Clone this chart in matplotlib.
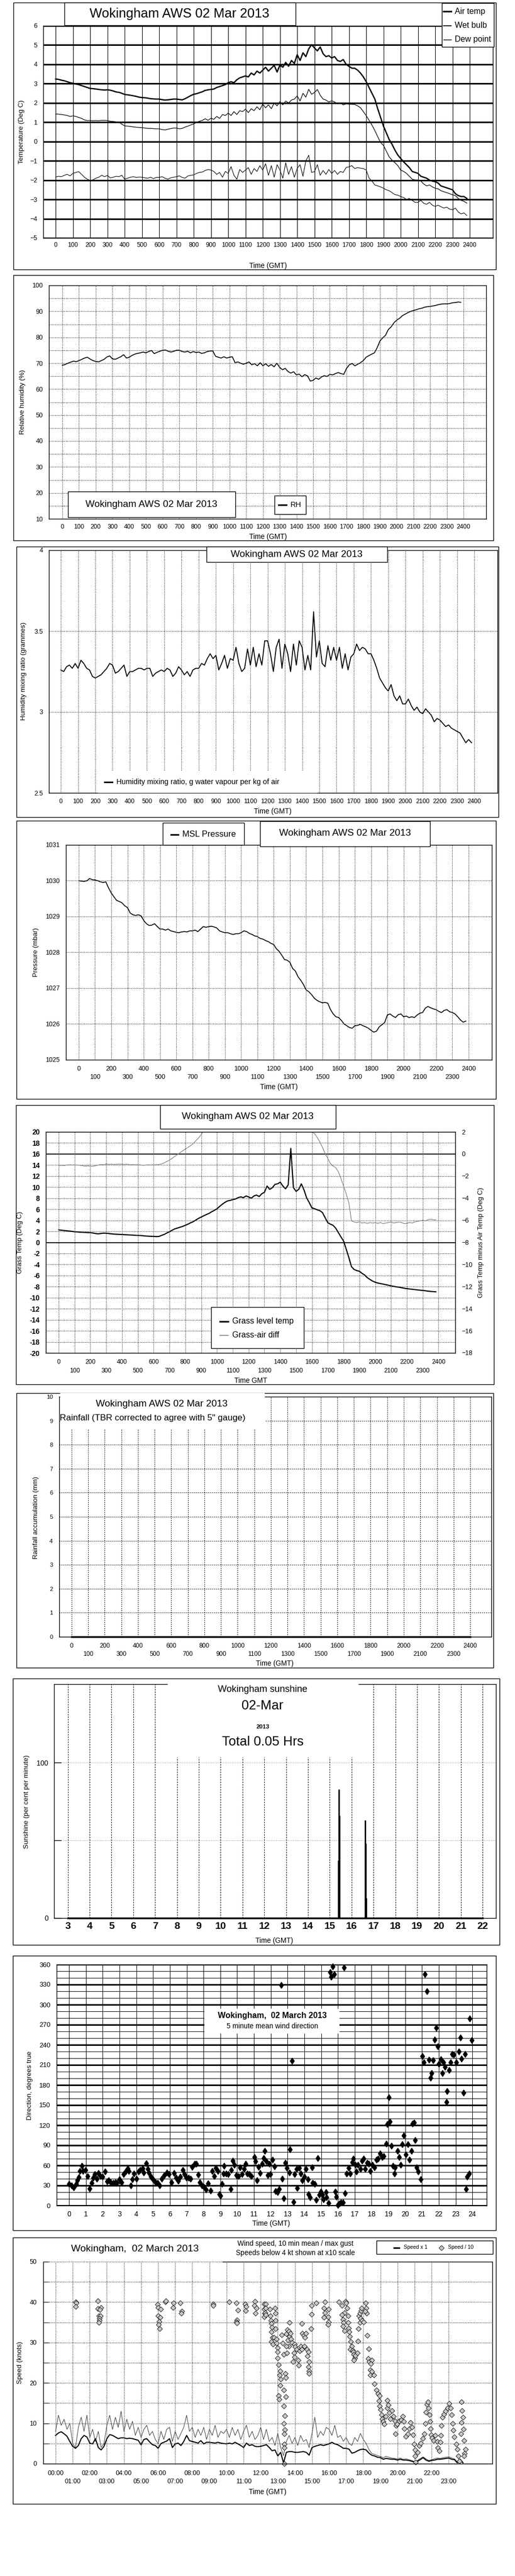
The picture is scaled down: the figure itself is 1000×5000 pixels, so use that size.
import numpy as np
import matplotlib
matplotlib.use('Agg')
import matplotlib.pyplot as plt
from matplotlib.patches import Rectangle
from matplotlib.lines import Line2D
from matplotlib import font_manager

# ---------------- data: 10 minute readings, 00:00 .. 23:50 GMT ----------------
air_temp = [
    3.24, 3.22, 3.18, 3.15, 3.10, 3.05, 3.02, 2.98, 2.95, 2.90, 2.85, 2.80,
    2.75, 2.74, 2.72, 2.70, 2.68, 2.67, 2.68, 2.66, 2.62, 2.57, 2.55, 2.50,
    2.44, 2.42, 2.40, 2.37, 2.34, 2.30, 2.28, 2.27, 2.25, 2.22, 2.21, 2.20,
    2.20, 2.17, 2.15, 2.16, 2.18, 2.20, 2.20, 2.18, 2.16, 2.22, 2.30, 2.38,
    2.45, 2.48, 2.53, 2.58, 2.65, 2.68, 2.70, 2.72, 2.80, 2.85, 2.90, 2.95,
    3.05, 3.10, 3.05, 3.20, 3.30, 3.35, 3.40, 3.35, 3.55, 3.45, 3.65, 3.55,
    3.70, 3.85, 3.65, 3.80, 3.95, 3.60, 3.97, 3.85, 4.10, 3.90, 4.20, 4.05,
    4.50, 4.20, 4.60, 4.40, 4.80, 5.02, 4.85, 4.70, 4.90, 4.55, 4.40, 4.45,
    4.33, 4.40, 4.20, 4.15, 4.25, 4.00, 3.90, 3.80, 3.80, 3.70, 3.55, 3.35,
    3.10, 2.80, 2.50, 2.20, 1.70, 1.25, 0.80, 0.45, 0.10, -0.15, -0.45, -0.70,
    -0.88, -1.05, -1.20, -1.35, -1.55, -1.60, -1.65, -1.80, -1.85, -1.90, -2.00, -2.05,
    -2.08, -2.15, -2.30, -2.35, -2.40, -2.45, -2.50, -2.70, -2.80, -2.85, -2.85, -2.95,
]
wet_bulb = [
    1.43, 1.42, 1.40, 1.38, 1.35, 1.30, 1.33, 1.30, 1.25, 1.20, 1.12, 1.09,
    1.09, 1.08, 1.09, 1.08, 1.10, 1.10, 1.09, 1.05, 1.04, 1.02, 1.00, 0.90,
    0.81, 0.80, 0.78, 0.76, 0.74, 0.73, 0.72, 0.70, 0.68, 0.68, 0.67, 0.66,
    0.66, 0.62, 0.60, 0.64, 0.67, 0.70, 0.70, 0.66, 0.68, 0.75, 0.80, 0.86,
    0.91, 1.00, 1.05, 1.10, 1.18, 1.10, 1.21, 1.15, 1.30, 1.20, 1.40, 1.35,
    1.47, 1.35, 1.55, 1.40, 1.60, 1.55, 1.68, 1.50, 1.70, 1.60, 1.80, 1.65,
    1.94, 1.75, 1.90, 1.70, 2.00, 1.85, 2.07, 1.90, 2.10, 2.00, 2.15, 2.20,
    2.37, 2.10, 2.50, 2.30, 2.71, 2.45, 2.54, 2.70, 2.40, 2.20, 2.15, 2.05,
    2.11, 2.05, 1.95, 2.00, 1.90, 1.95, 1.94, 1.93, 1.92, 1.85, 1.75, 1.55,
    1.34, 1.10, 0.85, 0.57, 0.25, -0.05, -0.20, -0.50, -0.80, -0.97, -1.10, -1.25,
    -1.48, -1.55, -1.65, -1.80, -1.95, -1.99, -1.99, -2.05, -2.20, -2.30, -2.25, -2.35,
    -2.42, -2.45, -2.55, -2.60, -2.65, -2.70, -2.76, -2.80, -2.95, -3.05, -3.10, -3.19,
]
dew_point = [
    -1.84, -1.80, -1.82, -1.75, -1.70, -1.78, -1.65, -1.60, -1.56, -1.70, -1.85, -1.95,
    -2.02, -1.98, -1.90, -1.85, -1.75, -1.82, -1.76, -1.88, -1.85, -1.80, -1.82, -1.75,
    -1.95, -1.90, -1.85, -1.82, -1.86, -1.84, -1.85, -1.88, -1.90, -1.85, -1.92, -1.86,
    -1.86, -1.82, -1.90, -1.95, -1.88, -1.85, -1.82, -1.78, -1.86, -1.90, -1.78, -1.75,
    -1.73, -1.65, -1.60, -1.58, -1.50, -1.45, -1.48, -1.55, -1.70, -1.60, -1.85, -1.55,
    -1.65, -1.30, -1.75, -1.95, -1.45, -1.60, -1.48, -1.35, -1.70, -1.40, -1.55, -1.25,
    -1.48, -1.15, -1.75, -1.25, -1.85, -1.20, -1.48, -1.90, -1.10, -1.70, -1.30, -1.85,
    -1.39, -1.20, -1.80, -1.00, -0.71, -1.60, -1.56, -1.20, -1.75, -1.50, -1.70, -1.45,
    -1.65, -1.50, -1.70, -1.55, -1.60, -1.35, -1.31, -1.25, -1.40, -1.35, -1.38, -1.40,
    -1.48, -1.90, -2.05, -2.25, -2.30, -2.35, -2.42, -2.50, -2.55, -2.65, -2.75, -2.78,
    -2.85, -2.90, -3.00, -2.95, -3.05, -3.15, -3.15, -3.05, -3.20, -3.25, -3.15, -3.30,
    -3.36, -3.30, -3.38, -3.45, -3.40, -3.50, -3.53, -3.45, -3.65, -3.75, -3.70, -3.83,
]
rel_humidity = [
    69.2, 69.5, 70.0, 70.4, 70.8, 70.6, 71.0, 71.5, 72.0, 72.3, 71.6, 71.0,
    70.7, 70.5, 71.0, 71.5, 72.4, 72.8, 71.7, 71.5, 72.0, 72.5, 73.3, 72.0,
    72.3, 73.0, 73.5, 73.8, 74.0, 74.3, 74.0, 74.5, 74.9, 73.7, 74.2, 74.6,
    75.0, 75.1, 74.6, 74.3, 74.6, 75.0, 75.0, 74.5, 74.3, 74.6, 74.0, 74.5,
    74.1, 74.3, 73.8, 74.0, 74.5, 74.7, 74.7, 72.7, 72.3, 72.0, 72.5, 72.0,
    72.3, 72.5, 70.2, 70.5, 70.0, 69.6, 70.0, 70.5, 69.4, 69.8, 69.0, 70.2,
    69.0, 69.8, 68.8, 69.5, 68.6, 70.0, 68.4, 67.5, 68.0, 66.8, 66.2, 66.7,
    65.5, 65.8, 64.8, 65.6, 65.1, 63.1, 63.4, 64.3, 63.8, 64.7, 65.2, 64.9,
    65.7, 65.5, 66.0, 66.4, 66.0, 65.7, 68.0, 69.4, 69.9, 69.0, 69.6, 70.2,
    71.0, 72.3, 72.9, 73.5, 74.0, 76.0, 78.6, 79.8, 80.8, 83.0, 84.0, 85.6,
    86.6, 87.3, 88.3, 88.9, 89.5, 90.0, 90.3, 90.6, 91.0, 91.2, 91.6, 91.8,
    91.9, 92.1, 92.3, 92.6, 92.8, 92.9, 92.9, 93.0, 93.3, 93.4, 93.6, 93.5,
]
mixing_ratio = [
    3.26, 3.25, 3.28, 3.29, 3.27, 3.30, 3.27, 3.32, 3.30, 3.27, 3.26, 3.22,
    3.21, 3.22, 3.23, 3.25, 3.27, 3.30, 3.29, 3.24, 3.25, 3.27, 3.29, 3.22,
    3.25, 3.25, 3.26, 3.27, 3.27, 3.26, 3.27, 3.27, 3.22, 3.24, 3.25, 3.26,
    3.25, 3.27, 3.26, 3.22, 3.24, 3.28, 3.26, 3.23, 3.25, 3.22, 3.26, 3.27,
    3.27, 3.30, 3.29, 3.33, 3.36, 3.33, 3.35, 3.26, 3.30, 3.35, 3.27, 3.33,
    3.32, 3.40, 3.30, 3.25, 3.27, 3.39, 3.29, 3.40, 3.28, 3.36, 3.29, 3.44,
    3.44, 3.36, 3.25, 3.40, 3.45, 3.27, 3.42, 3.36, 3.25, 3.42, 3.29, 3.44,
    3.40, 3.26, 3.35, 3.26, 3.62, 3.34, 3.44, 3.30, 3.28, 3.41, 3.32, 3.40,
    3.32, 3.40, 3.27, 3.36, 3.26, 3.34, 3.36, 3.42, 3.38, 3.40, 3.39, 3.36,
    3.36, 3.32, 3.27, 3.21, 3.18, 3.15, 3.13, 3.17, 3.10, 3.07, 3.10, 3.05,
    3.05, 3.08, 3.04, 3.01, 3.03, 3.00, 2.99, 3.02, 3.00, 2.98, 2.94, 2.96,
    2.95, 2.93, 2.91, 2.92, 2.90, 2.89, 2.88, 2.87, 2.84, 2.81, 2.83, 2.81,
]
msl_pressure = [
    1030.00, 1029.99, 1029.98, 1030.00, 1030.06, 1030.03, 1030.02, 1030.00, 1029.97, 1029.95, 1029.97, 1029.80,
    1029.66, 1029.55, 1029.45, 1029.42, 1029.38, 1029.30, 1029.25, 1029.10, 1029.05, 1029.03, 1029.05, 1029.02,
    1028.89, 1028.80, 1028.75, 1028.76, 1028.80, 1028.72, 1028.65, 1028.65, 1028.62, 1028.65, 1028.60, 1028.58,
    1028.56, 1028.55, 1028.57, 1028.58, 1028.57, 1028.60, 1028.60, 1028.62, 1028.58, 1028.65, 1028.72, 1028.70,
    1028.72, 1028.73, 1028.71, 1028.68, 1028.60, 1028.57, 1028.55, 1028.55, 1028.52, 1028.50, 1028.52, 1028.52,
    1028.55, 1028.60, 1028.58, 1028.53, 1028.50, 1028.46, 1028.44, 1028.39, 1028.37, 1028.33, 1028.30, 1028.25,
    1028.22, 1028.10, 1028.03, 1027.92, 1027.80, 1027.78, 1027.72, 1027.55, 1027.48, 1027.32, 1027.22, 1027.10,
    1026.95, 1026.90, 1026.82, 1026.72, 1026.66, 1026.62, 1026.59, 1026.60, 1026.58, 1026.40, 1026.28, 1026.20,
    1026.18, 1026.10, 1026.00, 1025.95, 1025.90, 1025.88, 1025.95, 1025.96, 1025.99, 1025.95, 1025.92, 1025.88,
    1025.82, 1025.77, 1025.80, 1025.92, 1025.98, 1026.04, 1026.25, 1026.28, 1026.22, 1026.18, 1026.26, 1026.28,
    1026.20, 1026.22, 1026.18, 1026.20, 1026.18, 1026.25, 1026.30, 1026.32, 1026.44, 1026.49, 1026.45, 1026.42,
    1026.40, 1026.35, 1026.32, 1026.38, 1026.40, 1026.34, 1026.32, 1026.28, 1026.20, 1026.11, 1026.05, 1026.08,
]
grass_temp = [
    2.26, 2.20, 2.15, 2.10, 2.05, 2.00, 1.93, 1.90, 1.85, 1.82, 1.80, 1.78,
    1.76, 1.70, 1.60, 1.55, 1.62, 1.68, 1.66, 1.60, 1.55, 1.50, 1.48, 1.45,
    1.43, 1.40, 1.38, 1.35, 1.30, 1.28, 1.26, 1.25, 1.20, 1.15, 1.12, 1.10,
    1.10, 1.05, 1.08, 1.26, 1.45, 1.70, 1.93, 2.20, 2.45, 2.59, 2.75, 2.90,
    3.09, 3.30, 3.55, 3.75, 4.05, 4.35, 4.58, 4.80, 5.05, 5.25, 5.55, 5.80,
    6.08, 6.50, 6.90, 7.24, 7.50, 7.60, 7.74, 7.85, 8.10, 8.24, 8.10, 8.40,
    8.24, 8.00, 8.40, 8.57, 8.30, 8.80, 9.07, 10.20, 9.60, 9.90, 10.50, 10.60,
    10.90, 10.20, 9.70, 10.40, 17.00, 9.90, 9.24, 9.60, 10.60, 9.50, 8.07, 7.20,
    6.25, 6.10, 5.90, 5.75, 5.40, 4.50, 3.59, 3.30, 3.10, 2.59, 1.80, 1.00,
    0.27, -1.20, -2.72, -4.38, -4.90, -5.10, -5.22, -5.60, -5.90, -6.38, -6.70, -7.00,
    -7.21, -7.35, -7.45, -7.54, -7.65, -7.75, -7.87, -7.95, -8.05, -8.11, -8.20, -8.30,
    -8.37, -8.42, -8.48, -8.54, -8.60, -8.65, -8.70, -8.75, -8.82, -8.87, -8.90, -8.94,
]
grass_air_diff = [
    -1.03, -1.02, -1.05, -1.00, -0.98, -1.00, -0.98, -1.00, -1.02, -1.05, -1.10, -1.08,
    -1.10, -1.12, -1.05, -1.00, -0.95, -0.97, -0.90, -0.95, -0.92, -0.95, -0.93, -0.92,
    -0.93, -0.95, -0.92, -0.98, -0.95, -0.98, -0.97, -0.99, -1.02, -1.00, -0.98, -1.00,
    -0.97, -0.98, -0.95, -0.90, -0.80, -0.68, -0.55, -0.40, -0.22, -0.05, 0.12, 0.28,
    0.45, 0.60, 0.75, 0.95, 1.20, 1.45, 1.75, 2.10, 2.40, 2.70, 3.00, 3.30,
    3.50, 3.80, 4.00, 4.20, 4.40, 4.40, 4.50, 4.45, 4.60, 4.70, 4.70, 4.60,
    4.55, 4.50, 4.70, 4.80, 5.00, 5.20, 5.10, 5.50, 5.60, 5.30, 5.80, 5.60,
    6.00, 5.50, 6.50, 5.00, 4.80, 4.50, 4.00, 4.50, 3.80, 3.20, 2.60, 2.30,
    1.95, 1.85, 1.50, 1.10, 0.60, 0.05, -0.40, -0.85, -1.10, -1.22, -1.60, -2.20,
    -2.90, -3.60, -4.40, -6.05, -6.15, -6.20, -6.15, -6.25, -6.20, -6.28, -6.20, -6.25,
    -6.20, -6.28, -6.20, -6.30, -6.25, -6.20, -6.15, -6.25, -6.20, -6.15, -6.20, -6.30,
    -6.28, -6.20, -6.25, -6.15, -6.10, -6.05, -6.00, -6.05, -5.95, -5.90, -5.95, -5.96,
]
rain_hour = [0, 2, 4, 6, 8, 10, 12, 14, 16, 18, 20, 22, 24]
rain_mm = [0.0, 0.0, 0.0, 0.0, 0.0, 0.0, 0.0, 0.0, 0.0, 0.0, 0.0, 0.0, 0.0]

sun_hour = [15.40, 15.42, 15.43, 15.45, 16.63, 16.65, 16.67]
sun_pct = [37, 83, 66, 52, 63, 48, 13]

wind_mean = [
    7.0, 7.6, 7.9, 7.4, 6.8, 5.5, 4.3, 3.8, 4.5, 6.2, 7.0, 6.6,
    5.1, 4.9, 6.2, 4.0, 3.4, 4.3, 6.2, 7.2, 7.0, 6.6, 6.2, 6.4,
    6.4, 6.2, 6.3, 6.2, 6.0, 5.8, 4.7, 6.0, 6.2, 5.4, 4.7, 4.5,
    3.8, 5.0, 5.3, 5.6, 6.2, 4.0, 4.9, 5.1, 4.5, 5.5, 7.0, 5.7,
    5.5, 5.3, 5.1, 5.7, 4.9, 5.3, 5.3, 5.2, 5.1, 5.3, 5.1, 5.0,
    4.9, 5.1, 4.9, 5.3, 4.9, 4.5, 4.0, 5.1, 4.5, 4.7, 4.3, 4.2,
    4.3, 4.5, 4.7, 4.0, 3.2, 3.4, 1.9, 2.8, 0.2, 2.8, 3.0, 3.0,
    2.8, 2.8, 2.9, 3.0, 2.8, 2.1, 4.0, 4.3, 4.5, 4.7, 4.5, 4.7,
    4.9, 5.3, 4.9, 4.7, 4.3, 3.8, 3.8, 3.6, 2.6, 2.8, 3.2, 3.5,
    3.6, 3.4, 2.6, 2.1, 1.9, 1.6, 1.5, 1.1, 1.3, 1.2, 1.1, 1.1,
    0.9, 1.1, 0.9, 0.9, 0.8, 0.6, 0.4, 0.6, 1.0, 1.5, 0.9, 0.6,
    0.8, 0.9, 1.1, 1.1, 1.2, 1.3, 1.4, 1.1, 1.0, 0.2, 0.9, 0.2,
]
wind_gust = [
    8.0, 12.0, 9.5, 11.0, 8.5, 10.0, 5.0, 4.0, 9.0, 11.5, 8.0, 12.0,
    6.5, 8.5, 5.5, 8.0, 4.0, 5.0, 9.5, 12.0, 8.5, 11.5, 9.0, 13.0,
    8.0, 11.0, 8.5, 10.5, 7.0, 9.0, 6.5, 8.5, 9.5, 7.0, 8.0, 6.0,
    5.0, 8.0, 6.0, 8.5, 9.0, 5.5, 8.0, 6.0, 7.5, 9.0, 12.0, 8.0,
    9.0, 6.5, 8.5, 7.0, 9.0, 6.0, 8.5, 7.0, 9.5, 6.5, 8.0, 7.5,
    8.5, 6.5, 9.0, 7.0, 8.5, 6.0, 8.0, 9.5, 6.5, 8.0, 6.0, 7.0,
    9.0, 6.0, 8.5, 5.5, 6.5, 4.5, 7.5, 4.0, 2.0, 5.5, 7.0, 5.0,
    6.5, 4.5, 7.0, 5.5, 6.0, 4.0, 7.5, 11.5, 6.5, 8.0, 7.0, 9.0,
    8.5, 7.0, 9.5, 6.5, 7.0, 5.5, 6.5, 5.0, 4.5, 6.5, 5.5, 7.5,
    6.0, 5.0, 3.5, 2.5, 2.3, 2.0, 1.8, 1.5, 1.8, 1.6, 1.4, 1.3,
    1.2, 1.4, 1.1, 1.2, 1.0, 0.8, 0.5, 0.8, 1.3, 1.7, 1.2, 0.8,
    1.0, 1.2, 1.4, 1.3, 1.5, 1.6, 1.7, 1.4, 1.2, 0.5, 1.2, 0.4,
]

# 5 minute mean wind direction
wd_hour = [
    0.00, 0.15, 0.27, 0.41, 0.49, 0.58, 0.63, 0.75, 0.83, 0.97,
    1.09, 1.23, 1.35, 1.43, 1.52, 1.65, 1.74, 1.86, 1.99, 2.15,
    2.25, 2.37, 2.49, 2.62, 2.74, 2.85, 3.00, 3.13, 3.25, 3.36,
    3.48, 3.56, 3.68, 3.76, 3.87, 4.00, 4.12, 4.24, 4.38, 4.45,
    4.58, 4.67, 4.75, 4.87, 5.00, 5.13, 5.26, 5.40, 5.52, 5.66,
    5.81, 5.95, 6.08, 6.24, 6.37, 6.49, 6.63, 6.76, 6.85, 6.97,
    7.10, 7.23, 7.31, 7.48, 7.56, 7.68, 7.77, 7.90, 8.02, 8.16,
    8.28, 8.41, 8.50, 8.64, 8.73, 8.84, 8.93, 9.01, 9.10, 9.18,
    9.23, 9.35, 9.47, 9.61, 9.66, 9.74, 9.83, 9.95, 10.07, 10.17,
    10.29, 10.41, 10.51, 10.60, 10.72, 10.85, 11.02, 11.09, 11.18, 11.26,
    11.36, 11.48, 11.57, 11.65, 11.74, 11.82, 11.91, 11.99, 12.11, 12.21,
    12.28, 12.41, 12.50, 12.61, 12.67, 12.76, 12.88, 12.96, 13.10, 13.15,
    13.27, 13.36, 13.41, 13.53, 13.58, 13.70, 13.78, 13.87, 13.99, 14.09,
    14.21, 14.26, 14.34, 14.46, 14.50, 14.60, 14.72, 14.80, 14.89, 14.97,
    15.06, 15.14, 15.28, 15.32, 15.44, 15.54, 15.58, 15.68, 15.77, 15.83,
    15.91, 16.00, 16.08, 16.17, 16.29, 16.37, 16.42, 16.50, 16.63, 16.73,
    16.85, 16.90, 17.02, 17.10, 17.19, 17.33, 17.44, 17.53, 17.61, 17.73,
    17.84, 17.92, 18.04, 18.18, 18.30, 18.38, 18.52, 18.64, 18.72, 18.86,
    18.94, 19.04, 19.10, 19.18, 19.28, 19.37, 19.40, 19.54, 19.63, 19.74,
    19.83, 19.92, 20.03, 20.17, 20.26, 20.39, 20.43, 20.53, 20.60, 20.68,
    20.77, 20.94, 21.02, 21.12, 21.16, 21.28, 21.42, 21.52, 21.56, 21.67,
    21.75, 21.86, 21.95, 22.01, 22.11, 22.21, 22.27, 22.37, 22.47, 22.50,
    22.60, 22.70, 22.80, 22.90, 23.04, 23.20, 23.30, 23.36, 23.46, 23.56,
    23.61, 23.70, 23.80, 23.83, 23.95,
]
wd_deg = [
    32.6, 30.0, 27.0, 32.6, 37.7, 42.0, 51.8, 59.5, 51.8, 53.0,
    44.0, 25.4, 33.8, 41.5, 46.7, 40.3, 48.5, 44.0, 42.8, 50.5,
    36.4, 37.7, 35.0, 33.8, 35.0, 33.8, 39.0, 35.0, 46.7, 50.5,
    55.6, 51.8, 30.0, 39.0, 47.4, 40.3, 50.5, 53.0, 55.6, 49.0,
    62.8, 54.4, 49.0, 42.8, 39.0, 35.0, 33.8, 30.0, 40.3, 45.4,
    49.0, 46.7, 35.0, 48.7, 41.5, 37.0, 42.8, 53.0, 46.7, 41.5,
    41.5, 40.3, 57.4, 62.6, 62.0, 45.9, 35.0, 30.0, 27.4, 23.6,
    33.0, 22.3, 51.3, 44.0, 56.4, 51.8, 17.2, 14.6, 32.6, 48.0,
    59.5, 48.0, 46.7, 24.9, 53.0, 66.7, 60.8, 45.4, 44.0, 57.0,
    47.2, 54.4, 62.6, 47.4, 46.7, 44.0, 72.3, 65.9, 37.7, 57.4,
    48.7, 62.6, 71.0, 81.3, 65.9, 45.4, 62.0, 46.7, 68.5, 58.2,
    21.5, 19.7, 24.9, 329.4, 40.3, 10.8, 64.0, 56.4, 49.0, 83.8,
    215.8, 5.6, 46.7, 54.4, 26.2, 56.4, 48.0, 37.7, 42.8, 54.4,
    39.0, 17.2, 12.1, 57.0, 33.8, 32.6, 8.2, 71.0, 15.9, 21.0,
    15.9, 9.5, 19.7, 12.1, 3.6, 348.7, 341.8, 357.0, 345.4, 21.0,
    12.8, 0.5, 3.0, 4.4, 4.4, 355.6, 18.5, 48.0, 56.4, 48.0,
    64.6, 69.7, 60.8, 50.5, 60.8, 54.4, 67.2, 69.7, 54.4, 64.0,
    62.0, 51.8, 60.8, 57.0, 68.5, 69.7, 77.4, 72.3, 73.6, 92.0,
    121.2, 161.2, 125.4, 89.0, 59.5, 48.0, 57.0, 81.3, 72.3, 60.8,
    91.5, 104.4, 76.0, 91.5, 68.5, 81.3, 122.1, 123.5, 98.0, 57.0,
    50.5, 39.0, 222.7, 213.6, 345.4, 320.3, 217.7, 191.0, 197.8, 217.0,
    248.0, 265.5, 237.7, 211.5, 218.5, 197.8, 214.2, 206.7, 154.3, 170.8,
    202.5, 213.6, 226.5, 225.1, 213.6, 230.2, 250.8, 219.2, 168.6, 226.2,
    24.9, 42.8, 48.0, 279.2, 247.2,
]

# speeds below 4 kt, plotted at x10 scale
slow_hour = [
    1.17, 1.22, 1.17, 2.46, 2.46, 2.64, 2.59, 2.52, 2.62, 2.55,
    2.57, 2.52, 5.96, 6.01, 6.14, 6.01, 6.11, 6.06, 6.04, 6.09,
    6.41, 6.46, 6.89, 6.86, 7.30, 7.37, 7.35, 9.23, 9.23, 10.15,
    10.58, 10.66, 10.61, 10.58, 10.60, 11.09, 11.14, 11.12, 11.67, 11.64,
    11.74, 11.69, 12.19, 12.21, 12.24, 12.21, 12.28, 12.30, 12.25, 12.28,
    12.53, 12.58, 12.60, 12.63, 12.66, 12.63, 12.68, 12.63, 12.73, 12.78,
    12.83, 12.86, 12.88, 12.88, 12.93, 12.93, 12.98, 12.98, 13.00, 13.06,
    13.13, 13.10, 13.16, 13.13, 13.05, 13.08, 13.23, 13.29, 13.34, 13.44,
    13.46, 13.34, 13.46, 13.34, 13.42, 13.34, 13.41, 13.39, 13.37, 13.39,
    13.37, 13.49, 13.57, 13.64, 13.69, 13.67, 13.74, 13.59, 13.78, 13.64,
    13.84, 13.51, 13.54, 13.97, 14.02, 14.09, 13.94, 13.99, 13.89, 14.19,
    14.21, 14.29, 14.34, 14.39, 14.44, 14.39, 14.51, 14.59, 14.64, 14.54,
    14.71, 14.79, 14.74, 14.84, 14.79, 14.84, 14.84, 14.94, 14.97, 14.99,
    15.24, 15.75, 15.69, 15.75, 15.98, 15.95, 15.69, 15.98, 15.95, 16.58,
    16.75, 16.95, 17.00, 17.05, 16.90, 16.75, 16.80, 16.85, 16.82, 16.90,
    17.10, 17.10, 17.15, 17.18, 17.22, 17.28, 17.32, 17.25, 17.38, 17.42,
    17.45, 17.50, 17.45, 17.55, 17.65, 17.70, 17.73, 17.80, 17.75, 17.80,
    17.88, 17.90, 17.85, 17.94, 18.01, 18.13, 18.18, 18.20, 18.10, 18.23,
    18.31, 18.28, 18.36, 18.50, 18.45, 18.41, 18.51, 18.41, 18.61, 18.66,
    18.76, 18.86, 18.96, 18.91, 18.96, 19.00, 19.06, 19.11, 19.16, 19.21,
    19.31, 19.39, 19.41, 19.46, 19.53, 19.59, 19.69, 19.76, 19.86, 19.91,
    19.89, 19.99, 20.11, 20.21, 20.31, 20.36, 20.41, 20.49, 20.61, 20.71,
    20.76, 20.84, 20.92, 20.97, 21.02, 21.04, 21.07, 21.17, 21.27, 21.37,
    21.47, 21.57, 21.62, 21.67, 21.72, 21.77, 21.82, 21.87, 21.90, 21.94,
    21.97, 22.04, 22.12, 22.22, 22.32, 22.37, 22.44, 22.50, 22.54, 22.57,
    22.62, 22.72, 22.82, 22.92, 23.02, 23.12, 23.17, 23.22, 23.27, 23.33,
    23.43, 23.51, 23.55, 23.63, 23.73, 23.78, 23.83, 23.73, 23.85, 23.70,
    23.88, 23.98, 23.93, 23.88,
]
slow_x10 = [
    40.1, 39.8, 38.9, 40.3, 38.4, 38.7, 38.2, 36.6, 36.6, 36.0,
    35.4, 34.9, 39.4, 38.7, 38.3, 36.6, 36.2, 35.2, 34.5, 33.4,
    40.1, 40.3, 39.8, 38.6, 39.8, 37.7, 37.2, 39.6, 39.2, 40.1,
    39.8, 38.0, 35.6, 35.1, 34.8, 39.6, 38.9, 37.9, 40.2, 39.1,
    38.5, 37.2, 39.6, 38.3, 37.2, 36.4, 39.6, 38.5, 37.4, 36.8,
    38.3, 36.6, 35.4, 34.7, 33.8, 32.6, 31.3, 30.2, 29.6, 31.3,
    38.5, 37.2, 35.5, 33.4, 30.9, 29.8, 28.7, 27.7, 26.2, 24.5,
    23.0, 21.9, 20.9, 19.4, 16.8, 16.0, 31.9, 29.8, 27.0, 22.3,
    21.3, 18.3, 16.6, 14.3, 11.9, 10.0, 8.4, 7.4, 4.9, 4.0,
    0.0, 32.1, 33.2, 32.8, 34.9, 31.5, 32.3, 30.6, 30.9, 29.1,
    30.0, 29.1, 27.4, 29.6, 28.9, 28.3, 27.4, 26.4, 25.3, 25.7,
    24.4, 27.9, 29.1, 28.3, 32.3, 34.7, 31.7, 31.3, 32.3, 29.1,
    28.3, 27.7, 26.6, 25.3, 24.0, 23.0, 22.3, 33.4, 37.0, 39.1,
    39.8, 40.1, 38.5, 37.4, 38.3, 36.4, 36.2, 35.1, 34.5, 40.1,
    39.1, 40.2, 39.8, 38.5, 37.4, 36.8, 35.7, 34.9, 34.0, 32.9,
    36.6, 34.9, 33.6, 32.6, 31.5, 30.2, 29.1, 28.3, 28.1, 27.7,
    27.0, 26.2, 25.7, 26.8, 27.4, 30.4, 33.4, 34.9, 36.6, 37.2,
    37.9, 38.5, 36.0, 35.5, 35.1, 39.8, 38.5, 37.2, 37.7, 31.7,
    28.5, 26.0, 25.3, 25.7, 24.7, 23.2, 22.8, 21.9, 21.9, 19.8,
    18.3, 17.4, 16.8, 15.5, 14.3, 13.4, 12.1, 11.1, 10.4, 9.8,
    11.7, 13.8, 15.7, 14.5, 12.6, 11.1, 13.2, 11.7, 10.6, 9.4,
    7.4, 9.8, 10.6, 10.9, 11.7, 10.4, 8.7, 6.8, 7.4, 8.7,
    10.2, 9.1, 7.2, 4.9, 3.4, 1.9, 0.4, 2.8, 4.5, 5.1,
    6.2, 7.4, 10.0, 12.8, 14.7, 15.3, 13.8, 12.1, 10.4, 8.7,
    7.2, 6.4, 5.7, 7.0, 5.5, 4.0, 3.2, 5.3, 7.0, 9.4,
    11.5, 12.3, 13.0, 13.8, 14.9, 13.8, 12.1, 10.0, 8.3, 6.6,
    4.9, 3.6, 1.9, 0.6, 15.3, 13.2, 11.5, 10.2, 8.5, 7.4,
    5.7, 3.6, 2.6, 1.9,
]

TITLE = 'Wokingham AWS 02 Mar 2013'

# ---------------- fonts / helpers ----------------
W, H = 1000, 5000
_names = {f.name for f in font_manager.fontManager.ttflist}
HAVE_NARROW = 'Liberation Sans Narrow' in _names
NARROW = 'Liberation Sans Narrow' if HAVE_NARROW else 'Liberation Sans'
WIDE = 'Liberation Sans'
plt.rcParams['font.family'] = [NARROW, 'DejaVu Sans']


def fs(size):
    # sizes are tuned for the narrow face
    return size if HAVE_NARROW else size * 0.82


def fx(x):
    return x / W


def fy(y):
    return 1 - y / H


fig = plt.figure(figsize=(10, 50), dpi=100)


def add_ax(l, t, r, b):
    ax = fig.add_axes([fx(l), fy(b), (r - l) / W, (b - t) / H])
    for s in ax.spines.values():
        s.set_linewidth(1.0)
    ax.set_axisbelow(True)
    return ax


def frame(l, t, r, b, fill=False, ec='black', lw=1.0):
    fig.patches.append(Rectangle((fx(l), fy(b)), (r - l) / W, (b - t) / H,
                                 transform=fig.transFigure, fill=fill,
                                 facecolor='white', edgecolor=ec, lw=lw,
                                 zorder=5 if fill else 1))


def txt(x, y, s, size, ha='center', **kw):
    fig.text(fx(x), fy(y), s, fontsize=fs(size), ha=ha, va='center', zorder=8, **kw)


def ylab(x, y, s, size=9.5):
    fig.text(fx(x), fy(y), s, fontsize=size, family=WIDE, rotation=90,
             ha='center', va='center', zorder=8)


def key(x0, x1, y, **kw):
    fig.lines.append(Line2D([fx(x0), fx(x1)], [fy(y), fy(y)],
                            transform=fig.transFigure, zorder=9, **kw))


def hhmm_ticks(ax, size, pad, two_rows=False, pad2=None):
    if two_rows:
        ev = list(range(0, 2401, 200))
        od = list(range(100, 2400, 200))
        ax.set_xticks(ev, [str(v) for v in ev])
        ax.set_xticks(od, [str(v) for v in od], minor=True)
        ax.tick_params(axis='x', which='minor', labelsize=fs(size), length=0, pad=pad2)
    else:
        ev = list(range(0, 2401, 100))
        ax.set_xticks(ev, [str(v) for v in ev])
    ax.tick_params(axis='x', which='major', labelsize=fs(size), length=0, pad=pad)


t10 = np.arange(len(air_temp)) / 6.0
x10 = t10 * 100

# ---------------- 1: temperatures ----------------
frame(26, 5, 963, 523)
ax1 = add_ax(84, 50, 957, 462)
ax1.set_xlim(-72, 2534)
ax1.set_ylim(-5, 6)
hhmm_ticks(ax1, 10.5, 6)
ax1.set_yticks(range(-5, 7))
ax1.tick_params(axis='y', labelsize=fs(11), length=0, pad=8.5)
ax1.grid(axis='x', color='black', lw=0.8)
ax1.grid(axis='y', color='black', lw=2.2)
ax1.plot(x10, air_temp, color='black', lw=1.8)
ax1.plot(x10, wet_bulb, color='black', lw=0.9)
ax1.plot(x10, dew_point, color='black', lw=0.8)
frame(125, 5, 574, 49, fill=True)
txt(349, 27, TITLE, 22.5)
frame(858, 6, 959, 91, fill=True)
for yy, name, w in [(22, 'Air temp', 2.2), (50, 'Wet bulb', 1.2), (77, 'Dew point', 1.0)]:
    key(861, 876, yy, color='black', lw=w)
    txt(883, yy, name, 14, ha='left')
ylab(42, 256, 'Temperature (Deg C)')
txt(521, 516, 'Time (GMT)', 12)

# ---------------- 2: relative humidity ----------------
frame(26, 534, 958, 1049)
ax2 = add_ax(95, 554, 944, 1007)
ax2.set_xlim(-80, 2535)
ax2.set_ylim(10, 100)
hhmm_ticks(ax2, 10.5, 7)
ax2.set_yticks(range(10, 101, 10))
ax2.set_yticks(range(15, 100, 10), minor=True)
ax2.tick_params(axis='y', which='both', labelsize=fs(11), length=0, pad=8.5)
ax2.grid(which='both', color='black', ls=':', lw=0.8)
ax2.plot(x10, rel_humidity, color='black', lw=1.2)
frame(132, 954, 457, 1004, fill=True)
txt(294, 979, TITLE, 16.5)
frame(533, 962, 594, 998, fill=True)
key(541, 556, 980, color='black', lw=2.2)
txt(564, 980, 'RH', 13, ha='left')
ylab(44, 780, 'Relative humidity (%)')
txt(521, 1042, 'Time (GMT)', 12)

# ---------------- 3: mixing ratio ----------------
frame(32, 1061, 968, 1586)
ax3 = add_ax(95, 1068, 966, 1539)
ax3.set_xlim(-69, 2534)
ax3.set_ylim(2.5, 4)
hhmm_ticks(ax3, 10.5, 8)
ax3.set_yticks([2.5, 3, 3.5, 4], ['2.5', '3', '3.5', '4'])
ax3.tick_params(axis='y', labelsize=fs(11), length=0, pad=8.5)
ax3.grid(color='black', ls=':', lw=0.8)
ax3.plot(x10, mixing_ratio, color='black', lw=1.3)
frame(190, 1497, 616, 1538, fill=True, ec='white')
key(203, 218, 1518, color='black', lw=2.2)
txt(226, 1518, 'Humidity mixing ratio, g water vapour per kg of air', 12.5, ha='left')
frame(401, 1061, 752, 1091, fill=True)
txt(576, 1076, TITLE, 16.5)
ylab(46, 1303, 'Humidity mixing ratio (grammes)')
txt(530, 1575, 'Time (GMT)', 12)

# ---------------- 4: pressure ----------------
frame(32, 1593, 963, 2133)
ax4 = add_ax(128, 1640, 955, 2057)
ax4.set_xlim(-79, 2543)
ax4.set_ylim(1025, 1031)
hhmm_ticks(ax4, 11, 9, two_rows=True, pad2=20)
ax4.set_yticks(range(1025, 1032))
ax4.tick_params(axis='y', labelsize=fs(11), length=0, pad=8.5)
ax4.grid(which='both', color='black', ls=':', lw=0.8)
ax4.plot(x10, msl_pressure, color='black', lw=1.2)
frame(316, 1597, 474, 1640, fill=True)
key(332, 346, 1620, color='black', lw=2.2)
txt(354, 1619, 'MSL Pressure', 14.5, ha='left')
frame(505, 1594, 835, 1643, fill=True)
txt(670, 1618, TITLE, 16.5)
ylab(70, 1848, 'Pressure (mbar)')
txt(542, 2110, 'Time (GMT)', 12)

# ---------------- 5: grass temperature ----------------
frame(31, 2145, 959, 2687)
ax5 = add_ax(89, 2197, 884, 2626)
ax5.set_xlim(-81.5, 2506)
ax5.set_ylim(-20, 20)
hhmm_ticks(ax5, 10.5, 8.5, two_rows=True, pad2=21)
ax5.set_yticks(range(-20, 21, 2), [str(v) for v in range(-20, 21, 2)], fontweight='bold')
ax5.tick_params(axis='y', labelsize=fs(12), length=0, pad=8.5)
ax5.grid(which='both', color='black', ls=':', lw=0.8)
ax5.axhline(16, color='black', lw=1.2)
ax5.axhline(0, color='black', lw=1.2)
ax5.plot(x10, grass_temp, color='black', lw=1.6)
ax5b = ax5.twinx()
ax5b.set_ylim(-18, 2)
ax5b.set_yticks(range(-18, 3, 2))
ax5b.tick_params(axis='y', labelsize=fs(11), length=0, pad=9)
ax5b.plot(x10, grass_air_diff, color='#808080', lw=0.9)
frame(311, 2145, 652, 2191, fill=True)
txt(481, 2168, TITLE, 16.5)
frame(410, 2537, 590, 2617, fill=True)
key(427, 443, 2565, color='black', lw=2.2)
txt(451, 2564, 'Grass level temp', 14, ha='left')
key(427, 443, 2592, color='#808080', lw=1.2)
txt(451, 2591, 'Grass-air diff', 14, ha='left')
ylab(39, 2412, 'Grass Temp (Deg C)')
ylab(934, 2412, 'Grass Temp minus Air Temp (Deg C)')
txt(487, 2680, 'Time GMT', 12)

# ---------------- 6: rainfall ----------------
frame(32, 2704, 958, 3237)
ax6 = add_ax(115, 2711, 954, 3177)
ax6.set_xlim(-74, 2527)
ax6.set_ylim(0, 10)
hhmm_ticks(ax6, 10.5, 8.5, two_rows=True, pad2=20)
ax6.set_yticks(range(0, 11))
ax6.tick_params(axis='y', labelsize=fs(10), length=0, pad=9)
ax6.grid(which='both', color='black', ls=(0, (2, 2)), lw=0.7)
ax6.plot(np.array(rain_hour) * 100, rain_mm, color='black', lw=2.5, clip_on=False)
frame(117, 2704, 513, 2772, fill=True, ec='white')
txt(314, 2725, TITLE, 16.5)
txt(116, 2752, 'Rainfall (TBR corrected to agree with 5" gauge)', 15, ha='left')
ylab(70, 2946, 'Rainfall accumulation (mm)')
txt(534, 3229, 'Time (GMT)', 12)

# ---------------- 7: sunshine ----------------
frame(25, 3258, 970, 3775)
ax7 = add_ax(105, 3269, 963, 3723)
ax7.set_xlim(2.375, 22.61)
ax7.set_ylim(0, 150.5)
hrs = list(range(3, 23))
ax7.set_xticks(hrs, [str(h) for h in hrs], fontweight='bold')
ax7.tick_params(axis='x', labelsize=fs(17), length=0, pad=6)
ax7.set_yticks([0, 50, 100], ['0', '', '100'])
ax7.tick_params(axis='y', labelsize=fs(12), direction='in', length=10, width=1.0, pad=8)
ax7.grid(axis='x', color='black', ls=(0, (3, 2)), lw=0.7)
for yv in (50, 100):
    ax7.axhline(yv, color='#999999', ls=':', lw=0.9, zorder=0.5)
ax7.plot([3, 22], [0, 0], color='black', lw=2.5, clip_on=False)
ax7.vlines(sun_hour, 0, sun_pct, color='black', lw=2.0)
frame(326, 3268, 695, 3410, fill=True, ec='white')
txt(510, 3280, 'Wokingham sunshine', 16)
txt(510, 3311, '02-Mar', 22.5)
txt(510, 3352, '2013', 10, fontweight='bold')
txt(510, 3381, 'Total 0.05 Hrs', 22.5)
ylab(52, 3497, 'Sunshine (per cent per minute)')
txt(533, 3767, 'Time (GMT)', 12)

# ---------------- 8: wind direction ----------------
frame(25, 3796, 963, 4329)
ax8 = add_ax(110, 3813, 945, 4281)
ax8.set_xlim(-0.74, 24.85)
ax8.set_ylim(0, 360)
hrs = list(range(0, 25))
ax8.set_xticks(hrs, [str(h) for h in hrs])
ax8.tick_params(axis='x', labelsize=fs(12), length=0, pad=7)
ax8.set_yticks(range(0, 361, 30))
ax8.set_yticks(range(0, 361, 10), minor=True)
ax8.tick_params(axis='y', which='both', labelsize=fs(11.5), length=0, pad=8.5)
ax8.grid(axis='x', color='black', lw=0.7)
ax8.grid(axis='y', which='minor', color='black', lw=0.7)
ax8.grid(axis='y', which='major', color='black', lw=2.2)
ax8.plot(wd_hour, wd_deg, 'd', color='black', ms=6.5, clip_on=False)
frame(397, 3899, 658, 3946, fill=True, ec='white')
txt(529, 3913, 'Wokingham,  02 March 2013', 14, fontweight='bold')
txt(529, 3933, '5 minute mean wind direction', 12)
ylab(58, 4048, 'Direction, degrees true')
txt(527, 4316, 'Time (GMT)', 12)

# ---------------- 9: wind speed ----------------
frame(25, 4343, 963, 4860)
ax9 = add_ax(84, 4390, 956, 4782)
ax9.set_xlim(-0.72, 25.55)
ax9.set_ylim(0, 50)
ev = list(range(0, 24, 2))
od = list(range(1, 24, 2))
ax9.set_xticks(ev, ['%02d:00' % h for h in ev])
ax9.set_xticks(od, ['%02d:00' % h for h in od], minor=True)
ax9.tick_params(axis='x', which='major', labelsize=fs(11), length=0, pad=9)
ax9.tick_params(axis='x', which='minor', labelsize=fs(11), length=0, pad=21)
ax9.set_yticks(range(0, 51, 10))
ax9.set_yticks(range(5, 50, 10), minor=True)
ax9.tick_params(axis='y', which='both', labelsize=fs(11), direction='in', length=8, pad=9)
ax9.grid(which='both', color='black', ls=':', lw=0.8)
ax9.spines['top'].set_bounds(9.77, 25.55)
ax9.plot(t10, wind_gust, color='#4a4a4a', lw=0.8)
ax9.plot(t10, wind_mean, color='black', lw=1.5)
ax9.plot(slow_hour, slow_x10, 'D', mfc='#c8c8c8', mec='black', mew=0.6, ms=5, clip_on=False)
txt(262, 4366, 'Wokingham,  02 March 2013', 17)
txt(574, 4355, 'Wind speed, 10 min mean / max gust', 12)
txt(574, 4373, 'Speeds below 4 kt shown at x10 scale', 12)
frame(731, 4349, 957, 4375, fill=True)
key(765, 775, 4363, color='black', lw=2.2)
txt(784, 4362, 'Speed x 1', 9, ha='left')
fig.lines.append(Line2D([fx(857)], [fy(4363)], transform=fig.transFigure, marker='D',
                        mfc='#c8c8c8', mec='black', mew=0.6, ms=5, ls='none', zorder=9))
txt(870, 4362, 'Speed / 10', 9, ha='left')
ylab(39, 4586, 'Speed (knots)')
txt(520, 4837, 'Time (GMT)', 12)

fig.savefig('out.png', dpi=100)
